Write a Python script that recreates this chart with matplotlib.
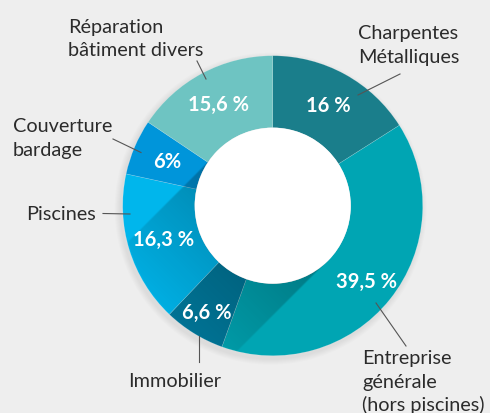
import numpy as np
import matplotlib
matplotlib.use('Agg')
from matplotlib import pyplot as plt
from matplotlib.patches import Circle

# donnees
categories = ['Charpentes\nMétalliques', 'Entreprise\ngénérale\n(hors piscines)', 'Immobilier',
              'Piscines', 'Couverture\nbardage', 'Réparation\nbâtiment divers']
values = [16, 39.5, 6.6, 16.3, 6, 15.6]
pct_labels = ['16 %', '39,5 %', '6,6 %', '16,3 %', '6%', '15,6 %']
colors = ['#1a7e8b', '#00a5b3', '#00789b', '#00b6ec', '#0095da', '#6ec4c2']

plt.rcParams['font.family'] = ['Lato', 'DejaVu Sans']
BG = '#eeeeee'
H = 414

fig = plt.figure(figsize=(4.9, 4.14), dpi=100, facecolor=BG)
ax = fig.add_axes([0, 0, 1, 1])
ax.set_facecolor(BG)

cx, cy = 272.7, H - 206.7
R, r_in = 150, 78

# ombre exterieure tres legere
for k in range(6):
    ax.add_patch(Circle((cx - 2, cy - 3), R + 6 - k, fc='black', alpha=0.012, lw=0, zorder=1))

wedges, _ = ax.pie(values, colors=colors, startangle=90, counterclock=False,
                   radius=R, center=(cx, cy),
                   wedgeprops=dict(width=R - r_in, linewidth=0.4, edgecolor=(1, 1, 1, 0.25)))
for w in wedges:
    w.set_zorder(2)

# ombre portee du trou (vers le bas a gauche)
n = 600
xs = np.linspace(cx - R, cx + R, n)
ys = np.linspace(cy - R, cy + R, n)
X, Y = np.meshgrid(xs, ys)
dx, dy = X - cx, Y - cy
t = (-dx - dy) / np.sqrt(2)
s = (dx - dy) / np.sqrt(2)
dist = np.hypot(dx, dy)
band = np.clip((r_in - np.abs(s)) / 1.5, 0, 1) * (t > 0)
ring = np.clip((R - dist) / 1.0, 0, 1)
alpha = 0.28 * np.clip(1 - t / 180, 0, 1) * band * ring
img = np.zeros((n, n, 4))
img[..., 3] = alpha
ax.imshow(img, extent=[cx - R, cx + R, cy - R, cy + R], origin='lower',
          interpolation='bilinear', zorder=3)

# trou blanc
ax.add_patch(Circle((cx, cy), r_in, fc='white', lw=0, zorder=4))

# pourcentages
pct_r = [115, 120, 125, 114, 115, 115]
cum = 0
for v, lab, rr in zip(values, pct_labels, pct_r):
    ang = np.deg2rad(90 - 360 * (cum + v / 2) / 100)
    cum += v
    ax.text(cx + rr * np.cos(ang), cy + rr * np.sin(ang), lab, color='white',
            fontsize=14.5, fontweight='bold', ha='center', va='center', zorder=6)

# etiquettes exterieures: (x, baseline de la 1re ligne) en pixels image
label_pos = [(358, 39.5), (362, 364.5), (128, 387.5), (26, 220), (13, 132.5), (68, 32.5)]
leaders = [((400, 75), (358, 96)), ((406, 347), (376, 304)), ((199, 363), (199, 337)),
           ((103, 214.5), (130, 215)), ((113, 140), (141, 153.5)), ((197, 62), (206, 80))]
line_h = 23.5
for lab, (x0, b0), (p, q) in zip(categories, label_pos, leaders):
    for i, line in enumerate(lab.split('\n')):
        ax.text(x0, H - (b0 + i * line_h), line, color='#2b2b2b', fontsize=14.3,
                ha='left', va='baseline', zorder=6)
    ax.plot([p[0], q[0]], [H - p[1], H - q[1]], color='#555555', lw=0.8, zorder=5)

ax.set_xlim(0, 490)
ax.set_ylim(0, H)
ax.set_aspect('equal')
ax.axis('off')

fig.savefig('out.png', dpi=100, facecolor=BG)
